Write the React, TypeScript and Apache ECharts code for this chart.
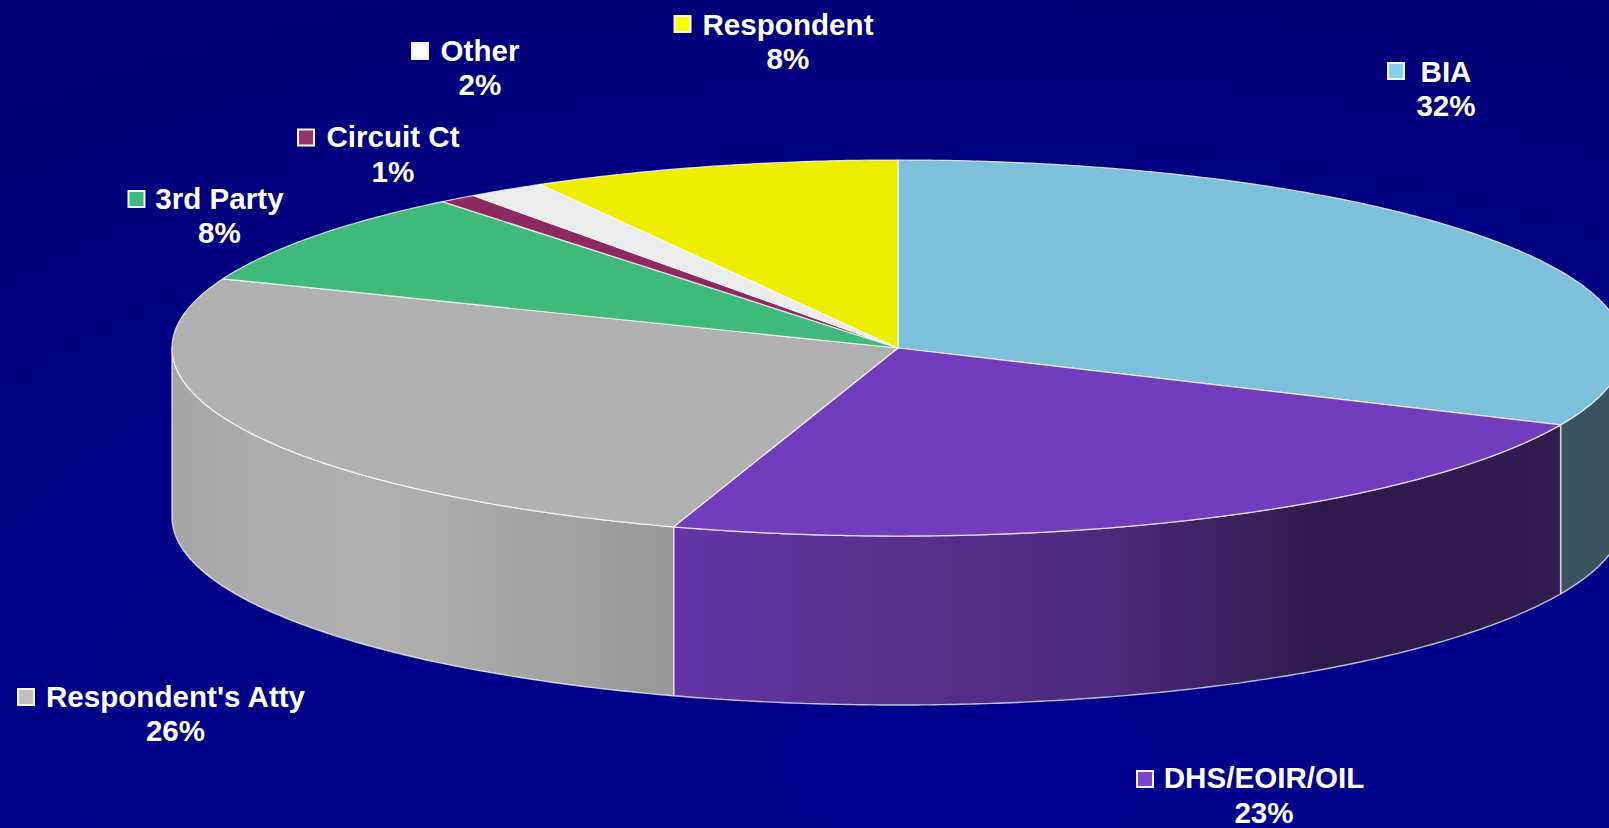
import React, { useEffect, useRef } from "react";
import * as echarts from "echarts";

const CATEGORIES = ["BIA", "DHS/EOIR/OIL", "Respondent's Atty", "3rd Party", "Circuit Ct", "Other", "Respondent"];
// Slice sizes; the printed labels are their rounded values
const VALUES = [31.7, 23.3, 26, 8.2, 0.85, 1.75, 8.2];
const PERCENT_LABELS = ["32%", "23%", "26%", "8%", "1%", "2%", "8%"];
const TOP_COLORS = ["#7ebfdb", "#713dbd", "#b0b0b0", "#3fba7c", "#8c2a5f", "#ececec", "#eeee00"];
const KEY_COLORS = ["#84d0ee", "#7b45cc", "#c0c0c0", "#3fba7c", "#993366", "#ffffff", "#ffff00"];

// Layout of the drawing, in pixels of the 1609x828 page
const CX = 898;
const CY = 348;
const RX = 726;
const RY = 188;
const DEPTH = 169;
const FONT = 'bold 29.6px "Liberation Sans", Arial, sans-serif';
// name centre x, name centre y, key centre x, key centre y
const LABEL_ANCHORS = [
  [1446, 71, 1396, 71],
  [1264, 777.5, 1145, 779],
  [175.5, 696, 26, 697],
  [219.5, 198, 136.5, 199],
  [393, 136.5, 306, 137.5],
  [480, 50, 420, 51],
  [788, 24, 682.5, 24],
];
const LINE_GAP = 34.5;

const wallFill = (i: number) => {
  const stops: Record<number, [number, string][]> = {
    0: [[0, "#38555f"], [1, "#38555f"]],
    1: [[0, "#6236a6"], [0.25, "#56308f"], [0.5, "#4b2a7a"], [0.73, "#2e1a4c"], [1, "#311c50"]],
    2: [[0, "#a6a6a6"], [0.12, "#aaaaaa"], [0.4, "#b0b0b0"], [0.6, "#a9a9a9"], [1, "#989898"]],
  };
  return new echarts.graphic.LinearGradient(
    0, 0, 1, 0,
    (stops[i] || [[0, TOP_COLORS[i]], [1, TOP_COLORS[i]]]).map(([offset, color]) => ({ offset, color }))
  );
};

const point = (deg: number, dy = 0): number[] => {
  const a = (deg * Math.PI) / 180;
  return [CX + RX * Math.sin(a), CY - RY * Math.cos(a) + dy];
};

const arc = (from: number, to: number, dy = 0): number[][] => {
  const pts: number[][] = [];
  const n = Math.max(2, Math.ceil(Math.abs(to - from) * 2));
  for (let k = 0; k <= n; k++) pts.push(point(from + ((to - from) * k) / n, dy));
  return pts;
};

const renderSlice = (params: any, api: any) => {
  const i = params.dataIndex;
  const start = (api.value(1) / 100) * 360;
  const end = (api.value(2) / 100) * 360;
  const children: any[] = [];

  const wallFrom = Math.max(start, 90);
  const wallTo = Math.min(end, 270);
  if (wallTo > wallFrom) {
    children.push({
      type: "polygon",
      shape: { points: [...arc(wallFrom, wallTo), ...arc(wallTo, wallFrom, DEPTH)] },
      style: { fill: wallFill(i), stroke: "rgba(255,255,255,0.72)", lineWidth: 1.4, lineJoin: "round" },
    });
  }

  children.push({
    type: "polygon",
    shape: { points: [[CX, CY], ...arc(start, end)] },
    style: { fill: TOP_COLORS[i], stroke: "rgba(255,255,255,0.78)", lineWidth: 1.2, lineJoin: "round" },
  });

  const [nx, ny, kx, ky] = LABEL_ANCHORS[i];
  children.push(
    {
      type: "rect",
      shape: { x: kx - 8, y: ky - 8, width: 16, height: 16 },
      style: { fill: KEY_COLORS[i], stroke: "#f4f4f8", lineWidth: 2 },
    },
    {
      type: "text",
      x: nx,
      y: ny,
      style: { text: CATEGORIES[i], fill: "#ffffff", font: FONT, align: "center", verticalAlign: "middle" },
    },
    {
      type: "text",
      x: nx,
      y: ny + LINE_GAP,
      style: { text: PERCENT_LABELS[i], fill: "#ffffff", font: FONT, align: "center", verticalAlign: "middle" },
    }
  );
  return { type: "group", children };
};

export default function App() {
  const ref = useRef<HTMLDivElement>(null);
  useEffect(() => {
    document.body.style.margin = "0";
    const chart = echarts.init(ref.current!, null, { renderer: "svg" });
    let sum = 0;
    const data = VALUES.map((v, i) => {
      const from = sum;
      sum += v;
      return { name: CATEGORIES[i], value: [v, from, sum] };
    });
    chart.setOption({
      animation: false,
      backgroundColor: new echarts.graphic.RadialGradient(0.6, 0.92, 1.3, [
        { offset: 0, color: "#00008f" },
        { offset: 0.5, color: "#000086" },
        { offset: 1, color: "#000068" },
      ]),
      series: [
        {
          type: "custom",
          coordinateSystem: "none",
          silent: true,
          renderItem: renderSlice,
          data,
        },
      ],
    });
    return () => chart.dispose();
  }, []);
  return <div ref={ref} style={{ width: 1609, height: 828, overflow: "hidden" }} />;
}
